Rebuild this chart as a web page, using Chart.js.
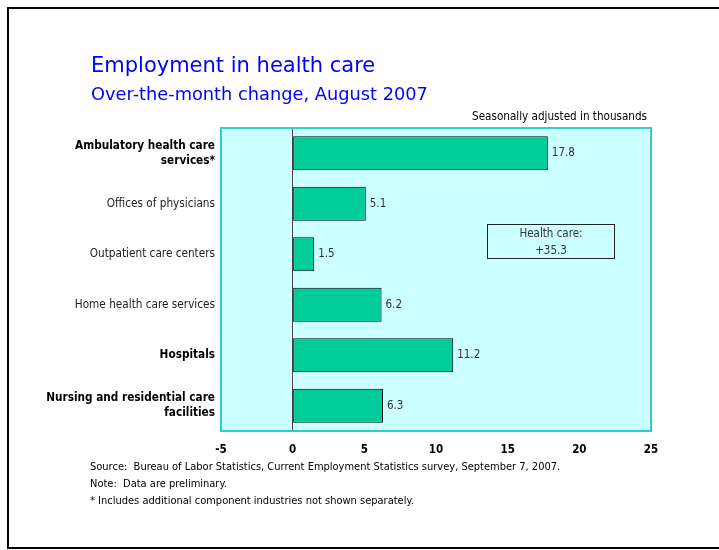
<!DOCTYPE html>
<html>
<head>
<meta charset="utf-8">
<script src="https://cdn.jsdelivr.net/npm/chart.js@4/dist/chart.umd.min.js"></script>
<style>
  html, body { margin:0; padding:0; background:#fff; }
  body { width:719px; height:550px; position:relative; overflow:hidden; }
  #frame { position:absolute; left:7px; top:7px; width:730px; height:538px; border:2px solid #000; box-sizing:content-box; }
  .txt { font-family:"DejaVu Sans Condensed","DejaVu Sans",sans-serif; position:absolute; white-space:nowrap; }
  .wide { font-family:"DejaVu Sans",sans-serif; }
  #title { left:91px; top:53px; font-size:21px; color:#0000ff; }
  #subtitle { left:91px; top:83px; font-size:17.8px; color:#0000ff; }
  #units { right:72px; top:109px; font-size:11.6px; color:#000; }
  #notes { left:90px; top:458px; font-size:11px; line-height:17px; color:#000; }
  #box { position:absolute; left:487px; top:224px; width:128px; height:35px; border:1px solid #222; box-sizing:border-box;
         font-family:"DejaVu Sans Condensed","DejaVu Sans",sans-serif; font-size:11.5px; color:#333; text-align:center; line-height:17px; padding-top:0px; }
  #wrap { position:absolute; left:0; top:0; width:719px; height:550px; }
</style>
</head>
<body>
<div id="frame"></div>
<div id="wrap"><canvas id="c" width="719" height="550"></canvas></div>
<div id="title" class="txt wide">Employment in health care</div>
<div id="subtitle" class="txt wide">Over-the-month change, August 2007</div>
<div id="units" class="txt">Seasonally adjusted in thousands</div>
<div id="notes" class="txt">Source:&nbsp; Bureau of Labor Statistics, Current Employment Statistics survey, September 7, 2007.<br>Note:&nbsp; Data are preliminary.<br>* Includes additional component industries not shown separately.</div>
<div id="box">Health care:<br><span id="total"></span></div>
<script>
const categories = [
  ["Ambulatory health care", "services*"],
  "Offices of physicians",
  "Outpatient care centers",
  "Home health care services",
  "Hospitals",
  ["Nursing and residential care", "facilities"]
];
const boldCategories = [true, false, false, false, true, true];
const values = [17.8, 5.1, 1.5, 6.2, 11.2, 6.3];
const valueLabels = ["17.8", "5.1", "1.5", "6.2", "11.2", "6.3"];
const totalLabel = "+35.3";
const xTicks = [-5, 0, 5, 10, 15, 20, 25];

document.getElementById('total').textContent = totalLabel;

const FONT = '"DejaVu Sans Condensed","DejaVu Sans",sans-serif';

const plotBg = {
  id: 'plotBg',
  beforeDraw(chart) {
    const {ctx, chartArea: a} = chart;
    ctx.save();
    ctx.fillStyle = '#ccffff';
    ctx.fillRect(a.left, a.top, a.right - a.left, a.bottom - a.top);
    ctx.restore();
  },
  afterDraw(chart) {
    const {ctx, chartArea: a} = chart;
    ctx.save();
    ctx.strokeStyle = '#33cccc';
    ctx.lineWidth = 2;
    ctx.strokeRect(a.left, a.top, a.right - a.left, a.bottom - a.top);
    const meta = chart.getDatasetMeta(0);
    ctx.fillStyle = '#333';
    ctx.font = '11.5px ' + FONT;
    ctx.textAlign = 'left';
    ctx.textBaseline = 'middle';
    meta.data.forEach((bar, i) => {
      ctx.fillText(valueLabels[i], bar.x + 4, bar.y);
    });
    ctx.restore();
  }
};

new Chart(document.getElementById('c'), {
  type: 'bar',
  data: {
    labels: categories,
    datasets: [{
      data: values,
      backgroundColor: '#00cc99',
      borderColor: '#000',
      borderWidth: 1,
      borderSkipped: false,
      barPercentage: 1,
      categoryPercentage: 0.67
    }]
  },
  options: {
    indexAxis: 'y',
    responsive: false,
    animation: false,
    devicePixelRatio: 1,
    layout: { padding: { left: 0, top: 128, right: 68, bottom: 0 } },
    plugins: { legend: { display: false }, tooltip: { enabled: false } },
    scales: {
      x: {
        min: -5, max: 25,
        afterBuildTicks(scale) { scale.ticks = xTicks.map(v => ({ value: v })); },
        afterFit(scale) { scale.height = 119; },
        border: { display: false },
        grid: {
          drawTicks: false,
          color: ctx => (ctx.tick && ctx.tick.value === 0) ? '#444' : 'rgba(0,0,0,0)',
          lineWidth: 1
        },
        ticks: {
          padding: 12,
          color: '#000',
          font: { family: FONT, size: 11.5, weight: 'bold' }
        }
      },
      y: {
        afterFit(scale) { scale.width = 221; },
        border: { display: false },
        grid: { display: false, drawTicks: false },
        ticks: {
          padding: 6,
          color: ctx => boldCategories[ctx.index] ? '#000' : '#222',
          font: ctx => ({
            family: FONT,
            size: 11.7,
            weight: boldCategories[ctx.index] ? 'bold' : 'normal',
            lineHeight: 1.3
          })
        }
      }
    }
  },
  plugins: [plotBg]
});
</script>
</body>
</html>
